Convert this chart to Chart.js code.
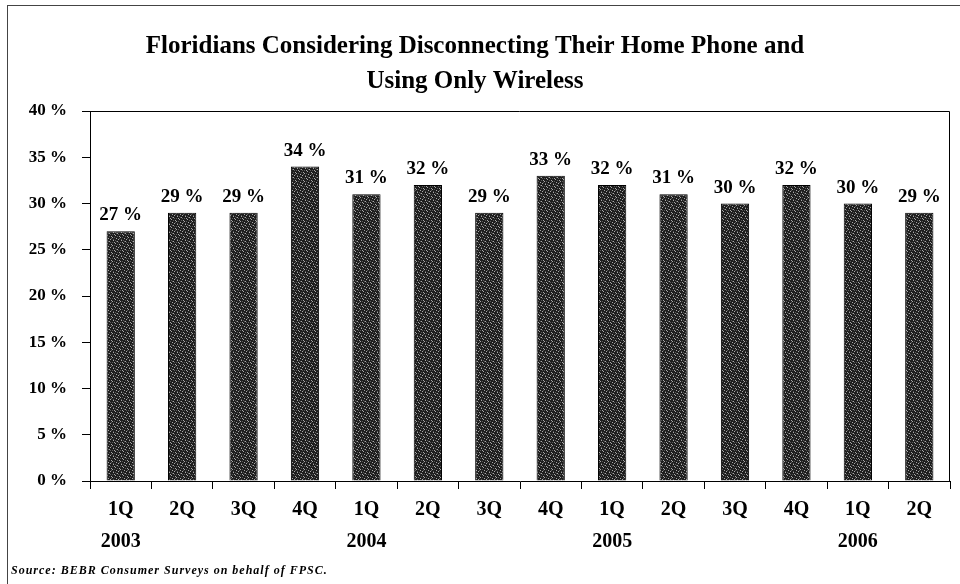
<!DOCTYPE html>
<html>
<head>
<meta charset="utf-8">
<script src="https://cdn.jsdelivr.net/npm/chart.js@4/dist/chart.umd.min.js"></script>
<style>
  html, body { margin: 0; padding: 0; background: #fff; }
  #wrap { position: relative; width: 960px; height: 584px; overflow: hidden; }
  #frame { position: absolute; left: 7px; top: 5px; width: 1000px; height: 1000px; border-left: 1px solid #444; border-top: 1px solid #444; box-sizing: border-box; pointer-events: none; }
  canvas { position: absolute; left: 0; top: 0; }
</style>
</head>
<body>
<div id="wrap">
  <canvas id="c" width="960" height="584"></canvas>
  <div id="frame"></div>
</div>
<script>
const quarters = ['1Q','2Q','3Q','4Q','1Q','2Q','3Q','4Q','1Q','2Q','3Q','4Q','1Q','2Q'];
const years = ['2003','','','','2004','','','','2005','','','','2006',''];
const values = [27, 29, 29, 34, 31, 32, 29, 33, 32, 31, 30, 32, 30, 29];
const yTicks = [0, 5, 10, 15, 20, 25, 30, 35, 40];
const titleLines = ['Floridians Considering Disconnecting Their Home Phone and', 'Using Only Wireless'];
const sourceText = 'Source: BEBR Consumer Surveys on behalf of FPSC.';

const labels = quarters.map((q, i) => [q, years[i]]);

// stipple pattern for bars (fixed arrangement)
function makePattern() {
  const p = document.createElement('canvas');
  p.width = 8; p.height = 8;
  const g = p.getContext('2d');
  g.fillStyle = '#1e1e1e';
  g.fillRect(0, 0, 8, 8);
  g.fillStyle = '#a8a8a8';
  [[1,0],[5,1],[3,3],[7,4],[0,5],[4,6],[6,7],[2,2]].forEach(([x, y]) => g.fillRect(x, y, 1, 1));
  g.fillStyle = '#5a5a5a';
  [[3,0],[0,2],[6,2],[2,5],[5,4],[1,7],[7,6],[4,1]].forEach(([x, y]) => g.fillRect(x, y, 1, 1));
  return document.getElementById('c').getContext('2d').createPattern(p, 'repeat');
}

const serif = '"Liberation Serif", "Times New Roman", serif';

const extras = {
  id: 'extras',
  afterDatasetsDraw(chart) {
    const ctx = chart.ctx;
    const a = chart.chartArea;
    ctx.save();
    ctx.strokeStyle = '#000';
    ctx.lineWidth = 1;
    ctx.beginPath();
    ctx.moveTo(a.left, a.top + 0.5);
    ctx.lineTo(a.right - 0.5, a.top + 0.5);
    ctx.lineTo(a.right - 0.5, a.bottom);
    ctx.stroke();
    ctx.fillStyle = '#000';
    ctx.font = 'bold 19px ' + serif;
    ctx.textAlign = 'center';
    ctx.textBaseline = 'alphabetic';
    const meta = chart.getDatasetMeta(0);
    meta.data.forEach((bar, i) => {
      ctx.fillText(values[i] + ' %', bar.x, bar.y - 11);
    });
    ctx.font = 'italic bold 12px ' + serif;
    ctx.textAlign = 'left';
    if ('letterSpacing' in ctx) ctx.letterSpacing = '1px';
    ctx.fillText(sourceText, 11, 574);
    ctx.restore();
  }
};

new Chart(document.getElementById('c'), {
  type: 'bar',
  data: {
    labels: labels,
    datasets: [{
      data: values,
      backgroundColor: makePattern(),
      borderColor: '#000',
      borderWidth: 1,
      barPercentage: 0.46,
      categoryPercentage: 1.0
    }]
  },
  options: {
    responsive: false,
    animation: false,
    devicePixelRatio: 1,
    layout: { padding: { left: 0, right: 10, top: 0, bottom: 0 } },
    plugins: {
      legend: { display: false },
      tooltip: { enabled: false },
      title: {
        display: true,
        text: titleLines,
        color: '#000',
        font: { family: serif, size: 25, weight: 'bold', lineHeight: 1.4 },
        padding: { top: 29, bottom: 12 }
      }
    },
    scales: {
      x: {
        offset: true,
        afterFit(scale) { scale.height = 103; },
        grid: { display: true, drawOnChartArea: false, offset: true, tickLength: 8, color: '#000' },
        border: { display: true, color: '#000', width: 1 },
        ticks: {
          color: '#000',
          font: { family: serif, size: 20, weight: 'bold', lineHeight: 1.6 },
          padding: 5,
          maxRotation: 0,
          autoSkip: false
        }
      },
      y: {
        min: 0,
        max: 40,
        afterBuildTicks(scale) { scale.ticks = yTicks.map(v => ({ value: v })); },
        afterFit(scale) { scale.width = 90; },
        grid: { display: true, drawOnChartArea: false, tickLength: 8, color: '#000' },
        border: { display: true, color: '#000', width: 1 },
        ticks: {
          color: '#000',
          font: { family: serif, size: 17, weight: 'bold' },
          padding: 15,
          callback: v => v + ' %'
        }
      }
    }
  },
  plugins: [extras]
});
</script>
</body>
</html>
